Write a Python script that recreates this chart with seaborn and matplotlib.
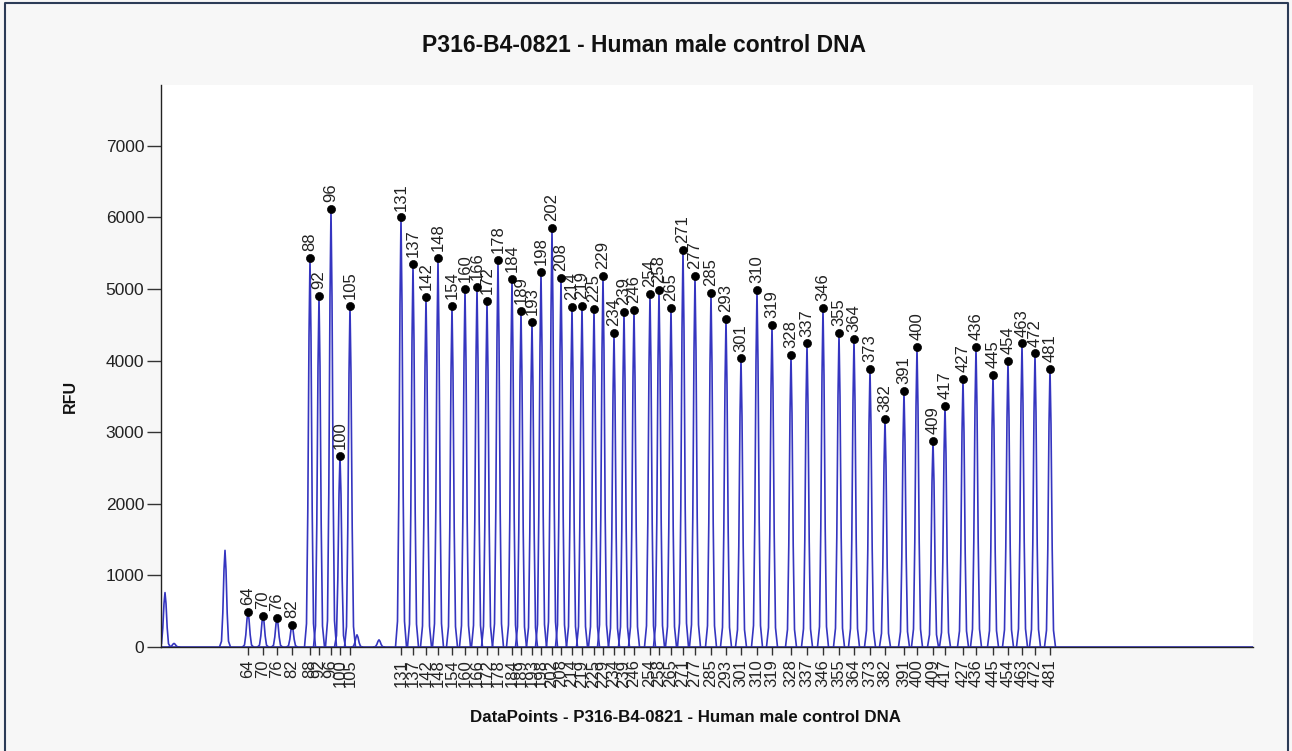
import numpy as np
import pandas as pd
import seaborn as sns
import matplotlib.pyplot as plt
from matplotlib.lines import Line2D

# labelled peaks: fragment size, scan position (datapoints), height (RFU)
sizes = [64, 70, 76, 82, 88, 92, 96, 100, 105, 131, 137, 142, 148, 154, 160,
         166, 172, 178, 184, 189, 193, 198, 202, 208, 214, 219, 225, 229, 234,
         239, 246, 254, 258, 265, 271, 277, 285, 293, 301, 310, 319, 328, 337,
         346, 355, 364, 373, 382, 391, 400, 409, 417, 427, 436, 445, 454, 463,
         472, 481]
positions = [870, 1020, 1160, 1310, 1490, 1580, 1700, 1790, 1890, 2400, 2520,
             2650, 2770, 2910, 3040, 3160, 3260, 3370, 3510, 3600, 3710, 3800,
             3910, 4000, 4110, 4210, 4330, 4420, 4530, 4630, 4730, 4890, 4980,
             5100, 5220, 5340, 5500, 5650, 5800, 5960, 6110, 6300, 6460, 6620,
             6780, 6930, 7090, 7240, 7430, 7560, 7720, 7840, 8020, 8150, 8320,
             8470, 8610, 8740, 8890]
heights = [485, 438, 402, 303, 5430, 4900, 6120, 2670, 4770, 6000, 5350, 4890,
           5430, 4770, 5000, 5030, 4830, 5400, 5140, 4700, 4540, 5240, 5850,
           5160, 4750, 4770, 4720, 5180, 4380, 4680, 4710, 4930, 4990, 4740,
           5550, 5180, 4940, 4580, 4030, 4990, 4500, 4080, 4240, 4740, 4380,
           4300, 3880, 3180, 3570, 4190, 2880, 3370, 3740, 4190, 3800, 4000,
           4240, 4100, 3890]

# unlabelled peaks (primer front / artefacts)
extra_positions = [40, 130, 640, 1960, 2180]
extra_heights = [760, 50, 1350, 170, 100]

x_end = 10920

# peak outline used to draw each peak of the trace
shape_dx = [-55, -35, -22, -10, 0, 10, 22, 35, 55]
shape_fr = [0, 0.06, 0.35, 0.8, 1, 0.8, 0.35, 0.06, 0]

rows = []
all_pos = positions + extra_positions
all_h = heights + extra_heights
for i, (p, h) in enumerate(zip(all_pos, all_h)):
    for dx, fr in zip(shape_dx, shape_fr):
        rows.append({"x": p + dx, "y": h * fr, "peak": i})
rows.append({"x": 0, "y": 0, "peak": -1})
rows.append({"x": x_end, "y": 0, "peak": -1})
trace = pd.DataFrame(rows)

peaks = pd.DataFrame({"size": sizes, "pos": positions, "rfu": heights})

sns.set_style("white")
plt.rcParams["font.family"] = ["Liberation Sans", "DejaVu Sans"]

fig = plt.figure(figsize=(12.92, 7.51), dpi=100, facecolor="#f7f7f7")
ax = fig.add_axes([161 / 1292, 104 / 751, 1092 / 1292, 562 / 751])
ax.set_facecolor("white")

sns.lineplot(data=trace, x="x", y="y", units="peak", estimator=None,
             sort=False, color="#3535c0", linewidth=1.2, ax=ax)
sns.scatterplot(data=peaks, x="pos", y="rfu", color="black", s=34,
                edgecolor="black", zorder=5, ax=ax)

for s, p, h in zip(sizes, positions, heights):
    ax.annotate(str(s), (p, h), xytext=(0, 5), textcoords="offset points",
                rotation=90, ha="center", va="bottom", fontsize=12,
                color="#222222")

ax.set_xlim(0, x_end)
ax.set_ylim(0, 7850)
ax.set_yticks(range(0, 8000, 1000))
ax.set_xticks(positions)
ax.set_xticklabels([str(s) for s in sizes], rotation=90)
ax.tick_params(axis="x", direction="out", length=6, width=1, color="#333333",
               labelsize=12, pad=3, labelcolor="#222222", bottom=True)
ax.tick_params(axis="y", direction="out", length=10, width=1, color="#333333",
               labelsize=12.5, pad=2, labelcolor="#222222", left=True)
ax.set_xlabel("")
ax.set_ylabel("")
for side in ["top", "right"]:
    ax.spines[side].set_visible(False)
for side in ["left", "bottom"]:
    ax.spines[side].set_color("#222222")
    ax.spines[side].set_linewidth(1)

fig.text(644 / 1292, 1 - 45 / 751, "P316-B4-0821 - Human male control DNA",
         ha="center", va="center", fontsize=16.5, fontweight="bold",
         family=["Liberation Sans Narrow", "Liberation Sans"], color="#111111")
fig.text(685 / 1292, 1 - 717 / 751,
         "DataPoints - P316-B4-0821 - Human male control DNA",
         ha="center", va="center", fontsize=12.2, fontweight="bold",
         color="#111111")
fig.text(70 / 1292, 1 - 396 / 751, "RFU", rotation=90, ha="center",
         va="center", fontsize=11.5, fontweight="bold", color="#111111")

# window frame
frame = Line2D([5 / 1292, 5 / 1292, 1288 / 1292, 1288 / 1292],
               [0, 1 - 3 / 751, 1 - 3 / 751, 0], transform=fig.transFigure,
               color="#2c3b57", linewidth=1.5)
fig.lines.append(frame)

fig.savefig("out.png", dpi=100, facecolor=fig.get_facecolor())
